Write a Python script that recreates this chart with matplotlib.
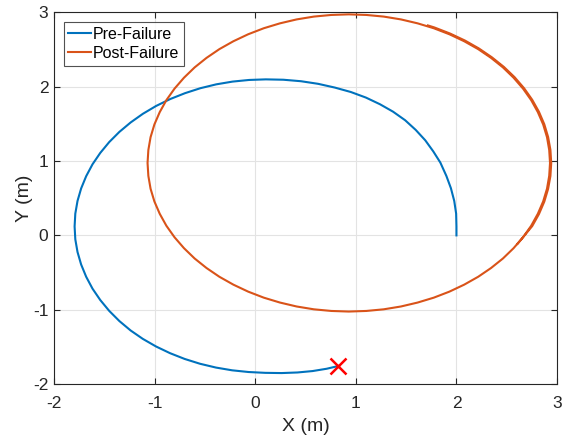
import matplotlib
matplotlib.use("Agg")
import matplotlib.pyplot as plt

plt.rcParams['font.family'] = ['Liberation Sans', 'DejaVu Sans']

# Pre-failure trajectory
pre_x = [2.000, 2.000, 1.997, 1.978, 1.945, 1.900, 1.840, 1.770, 1.690, 1.595, 1.490, 1.370,
         1.240, 1.100, 0.950, 0.790, 0.625, 0.455, 0.280, 0.105,
         -0.061, -0.225, -0.387, -0.545, -0.698, -0.845, -0.985, -1.116, -1.238, -1.350,
         -1.451, -1.540, -1.617, -1.680, -1.730, -1.766, -1.788, -1.795,
         -1.788, -1.766, -1.730, -1.680, -1.617, -1.540, -1.451, -1.350, -1.238, -1.117,
         -0.986, -0.847, -0.701, -0.548, -0.390, -0.229, -0.065, 0.100,
         0.262, 0.420, 0.570, 0.710, 0.820]
pre_y = [0.000, 0.120, 0.293, 0.464, 0.635, 0.800, 0.980, 1.130, 1.280, 1.420, 1.550, 1.665,
         1.765, 1.855, 1.930, 1.990, 2.040, 2.075, 2.095, 2.100,
         2.092, 2.070, 2.033, 1.981, 1.914, 1.835, 1.742, 1.637, 1.520, 1.393,
         1.256, 1.110, 0.957, 0.797, 0.632, 0.464, 0.293, 0.120,
         -0.053, -0.224, -0.392, -0.557, -0.717, -0.870, -1.016, -1.153, -1.280, -1.393,
         -1.495, -1.585, -1.663, -1.728, -1.779, -1.816, -1.839, -1.850,
         -1.853, -1.845, -1.826, -1.795, -1.760]

# Post-failure trajectory
post_x = [2.607, 2.662, 2.743, 2.809, 2.862, 2.900, 2.922, 2.930, 2.922, 2.900, 2.862, 2.809,
          2.743, 2.662, 2.568, 2.462, 2.344, 2.216, 2.077, 1.930, 1.775, 1.614, 1.448, 1.277,
          1.104, 0.930, 0.756, 0.583, 0.412, 0.246, 0.085, -0.070, -0.217, -0.356, -0.484,
          -0.602, -0.708, -0.802, -0.883, -0.949, -1.002, -1.040, -1.062, -1.070, -1.062,
          -1.040, -1.002, -0.949, -0.883, -0.802, -0.708, -0.602, -0.484, -0.356, -0.217,
          -0.070, 0.085, 0.246, 0.412, 0.583, 0.756, 0.930, 1.104, 1.277, 1.448, 1.614,
          1.775, 1.930, 2.077, 2.216, 2.344, 2.462, 2.568, 2.662,
          2.753, 2.820, 2.873, 2.911, 2.934, 2.942, 2.934, 2.911, 2.873, 2.820, 2.753,
          2.672, 2.578, 2.471, 2.352, 2.223, 2.084, 1.936, 1.780, 1.716]
post_y = [-0.114, -0.025, 0.130, 0.291, 0.457, 0.628, 0.801, 0.975, 1.149, 1.322, 1.493, 1.659,
          1.820, 1.975, 2.122, 2.261, 2.389, 2.507, 2.613, 2.707, 2.788, 2.854, 2.907, 2.945,
          2.967, 2.975, 2.967, 2.945, 2.907, 2.854, 2.788, 2.707, 2.613, 2.507, 2.389,
          2.261, 2.122, 1.975, 1.820, 1.659, 1.493, 1.322, 1.149, 0.975, 0.801,
          0.628, 0.457, 0.291, 0.130, -0.025, -0.172, -0.311, -0.439, -0.557, -0.663,
          -0.757, -0.838, -0.904, -0.957, -0.995, -1.017, -1.025, -1.017, -0.995, -0.957, -0.904,
          -0.838, -0.757, -0.663, -0.557, -0.439, -0.311, -0.172, -0.025,
          0.125, 0.287, 0.454, 0.626, 0.800, 0.975, 1.150, 1.324, 1.496, 1.663, 1.825,
          1.981, 2.129, 2.268, 2.397, 2.516, 2.623, 2.717, 2.799, 2.826]

fail_x = [0.82]
fail_y = [-1.76]

xticks = [-2, -1, 0, 1, 2, 3]
yticks = [-2, -1, 0, 1, 2, 3]

fig = plt.figure(figsize=(5.64, 4.40), dpi=100)
ax = fig.add_axes([0.0957, 0.1273, 0.892, 0.8443])

ax.plot(pre_x, pre_y, color='#0072BD', lw=1.5, label='Pre-Failure',
        solid_joinstyle='round')
ax.plot(post_x, post_y, color='#D95319', lw=1.5, label='Post-Failure',
        solid_joinstyle='round')
ax.plot(fail_x, fail_y, 'x', color='red', markersize=11, markeredgewidth=1.8)

ax.set_xlim(-2, 3)
ax.set_ylim(-2, 3)
ax.set_xticks(xticks)
ax.set_yticks(yticks)
ax.set_xticklabels([str(v) for v in xticks])
ax.set_yticklabels([str(v) for v in yticks])
ax.grid(True, color='#e3e3e3', lw=0.8)
ax.set_axisbelow(True)
for s in ax.spines.values():
    s.set_color('#262626')
    s.set_linewidth(0.8)
ax.tick_params(direction='in', length=4, width=0.8, colors='#262626', labelsize=12.5,
               top=True, right=True, labelcolor='#262626')
ax.tick_params(axis='x', pad=9)
ax.tick_params(axis='y', pad=4)
ax.set_xlabel('X (m)', fontsize=14, color='#262626', labelpad=5)
ax.set_ylabel('Y (m)', fontsize=14, color='#262626', labelpad=0)

leg = ax.legend(loc='upper left', fontsize=11.5, frameon=True, fancybox=False,
                edgecolor='#262626', borderpad=0.3, handlelength=1.4, handletextpad=0.15,
                labelspacing=0.25, borderaxespad=0.6)
leg.get_frame().set_linewidth(0.8)

fig.savefig('out.png', dpi=100)
